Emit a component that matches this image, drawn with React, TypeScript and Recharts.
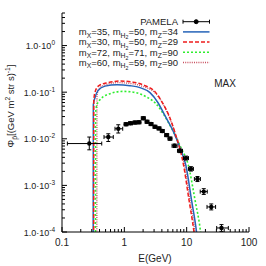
import React from 'react';
import { ComposedChart, Line, Scatter, XAxis, YAxis, ErrorBar } from 'recharts';

// PAMELA antiproton flux
const pamelaE = [0.274, 0.553, 0.8, 1.064, 1.256, 1.483, 1.719, 2.015, 2.31, 2.68, 3.1, 3.6, 4.06, 4.78, 5.4, 6.4, 7.81, 9.75, 11.7, 14.9, 18.8, 24.8, 36.2];
const pamelaELow = [0.122, 0.472, 0.708, 0.99, 1.17, 1.38, 1.6, 1.87, 2.15, 2.49, 2.88, 3.34, 3.77, 4.44, 5.01, 5.83, 7.12, 8.89, 10.67, 13.3, 16.5, 21.2, 30.3];
const pamelaEHigh = [0.434, 0.665, 0.942, 1.146, 1.35, 1.6, 1.85, 2.17, 2.49, 2.89, 3.34, 3.88, 4.37, 5.15, 5.82, 7.02, 8.57, 10.7, 12.83, 16.6, 21.4, 29.1, 46.6];
const pamelaFlux = [7.9e-3, 1.09e-2, 1.64e-2, 2.05e-2, 2.15e-2, 2.23e-2, 2.26e-2, 2.76e-2, 2.32e-2, 2.07e-2, 1.81e-2, 1.67e-2, 1.47e-2, 1.2e-2, 1.01e-2, 7.07e-3, 5.52e-3, 3.85e-3, 2.26e-3, 1.37e-3, 7.36e-4, 3.45e-4, 1.22e-4];
const pamelaFluxLow = [5.8e-3, 8.75e-3, 1.33e-2, 1.9e-2, 2.0e-2, 2.07e-2, 2.1e-2, 2.56e-2, 2.15e-2, 1.92e-2, 1.68e-2, 1.55e-2, 1.36e-2, 1.11e-2, 9.3e-3, 6.5e-3, 5.05e-3, 3.5e-3, 2.03e-3, 1.21e-3, 6.4e-4, 2.98e-4, 1.03e-4];
const pamelaFluxHigh = [1.09e-2, 1.28e-2, 2.0e-2, 2.21e-2, 2.32e-2, 2.4e-2, 2.43e-2, 2.97e-2, 2.5e-2, 2.23e-2, 1.95e-2, 1.8e-2, 1.58e-2, 1.3e-2, 1.09e-2, 7.7e-3, 6.0e-3, 4.25e-3, 2.52e-3, 1.55e-3, 8.5e-4, 4.0e-4, 1.44e-4];

// model curves
const blueE = [0.316, 0.318, 0.338, 0.378, 0.49, 0.763, 1.233, 1.783, 2.58, 3.47, 4.49, 6.03, 7.81, 9.76, 11.96, 14.4, 15.2];
const blueFlux = [2.5e-5, 0.0538, 0.0762, 0.108, 0.135, 0.145, 0.138, 0.125, 0.0976, 0.0594, 0.0313, 0.0149, 0.0064, 2.62e-3, 4.88e-4, 1e-4, 5.3e-5];

const redE = [0.322, 0.324, 0.345, 0.392, 0.547, 0.852, 1.377, 2.146, 3.1, 4.17, 5.21, 6.5, 8.9, 10.9, 13.1, 13.9];
const redFlux = [2.5e-5, 0.069, 0.108, 0.138, 0.16, 0.173, 0.164, 0.138, 0.1026, 0.0566, 0.0313, 0.01346, 2.76e-3, 4.88e-4, 1e-4, 5.3e-5];

const greenE = [0.343, 0.345, 0.364, 0.422, 0.589, 0.952, 1.54, 2.31, 3.22, 4.02, 5.02, 6.27, 8.11, 10.6, 13.6, 16.7, 17.6];
const greenFlux = [2.5e-5, 0.0362, 0.0538, 0.0724, 0.093, 0.104, 0.0976, 0.078, 0.0566, 0.0381, 0.0232, 0.01346, 0.0064, 2.76e-3, 4.88e-4, 1e-4, 5.3e-5];

const pinkE = [0.362, 0.364, 0.392, 0.508, 0.791, 1.327, 2.146, 3.1, 4.17, 5.21, 6.5, 9.23, 11.3, 13.6, 14.4];
const pinkFlux = [2.5e-5, 0.0841, 0.119, 0.145, 0.16, 0.152, 0.128, 0.0976, 0.0566, 0.0297, 0.01346, 2.76e-3, 4.88e-4, 1e-4, 5.3e-5];

const xMajorTicks = [0.1, 1, 10, 100];
const yMajorTicks = [1e-4, 1e-3, 1e-2, 1e-1, 1];
const minorSteps = [2, 3, 4, 5, 6, 7, 8, 9];

const X_DOMAIN = [0.1, 100];
const Y_DOMAIN = [1e-4, 5];

const xTicks: number[] = [];
xMajorTicks.forEach((m) => {
  xTicks.push(m);
  if (m < 100) minorSteps.forEach((s) => xTicks.push(m * s));
});
const yTicks: number[] = [];
yMajorTicks.forEach((m) => {
  yTicks.push(m);
  minorSteps.forEach((s) => {
    if (m * s <= 5.0001) yTicks.push(m * s);
  });
});

const toRows = (es: number[], fs: number[]) => es.map((e, i) => ({ e, phi: fs[i] }));
const pamelaRows = pamelaE.map((e, i) => ({
  e,
  phi: pamelaFlux[i],
  ex: [e - pamelaELow[i], pamelaEHigh[i] - e],
  ey: [pamelaFlux[i] - pamelaFluxLow[i], pamelaFluxHigh[i] - pamelaFlux[i]],
}));

const FONT = '"Liberation Sans", Arial, sans-serif';
const MAJOR = 5;
const MINOR = 3;

const isMajor = (v: number, majors: number[]) => majors.some((m) => Math.abs(v - m) / m < 1e-6);

const BottomTick = (props: any) => {
  const { x, y, payload } = props;
  const major = isMajor(payload.value, xMajorTicks);
  return (
    <g>
      <line x1={x} x2={x} y1={y} y2={y - (major ? MAJOR : MINOR)} stroke="#000" />
      {major && (
        <text x={x} y={y + 14} textAnchor="middle" fontSize={10} fontFamily={FONT} fill="#222">
          {String(payload.value)}
        </text>
      )}
    </g>
  );
};

const TopTick = (props: any) => {
  const { x, y, payload } = props;
  const major = isMajor(payload.value, xMajorTicks);
  return <line x1={x} x2={x} y1={y} y2={y + (major ? MAJOR : MINOR)} stroke="#000" />;
};

const LeftTick = (props: any) => {
  const { x, y, payload } = props;
  const major = isMajor(payload.value, yMajorTicks);
  const exp = Math.round(Math.log10(payload.value));
  return (
    <g>
      <line x1={x} x2={x + (major ? MAJOR : MINOR)} y1={y} y2={y} stroke="#000" />
      {major && (
        <text x={x - 7} y={y + 3.5} textAnchor="end" fontSize={9} fontFamily={FONT} fill="#222">
          1.0·10
          <tspan dy={-4} fontSize={6.5}>
            {String(exp)}
          </tspan>
        </text>
      )}
    </g>
  );
};

const RightTick = (props: any) => {
  const { x, y, payload } = props;
  const major = isMajor(payload.value, yMajorTicks);
  return <line x1={x} x2={x - (major ? MAJOR : MINOR)} y1={y} y2={y} stroke="#000" />;
};

// text with sub/superscripts: level 0 normal, -1 sub, -2 sub-sub, 1 sup
const levelShift: Record<number, number> = { 0: 0, '-1': 2.6, '-2': 4.2, 1: -4 };
const levelSize: Record<number, number> = { 0: 1, '-1': 0.72, '-2': 0.55, 1: 0.7 };
const RichText = ({ parts, size, ...rest }: any) => {
  let prev = 0;
  return (
    <text fontFamily={FONT} fontSize={size} fill="#222" {...rest}>
      {parts.map(([t, lvl]: [string, number], i: number) => {
        const dy = levelShift[lvl] - levelShift[prev];
        prev = lvl;
        return (
          <tspan key={i} dy={dy} fontSize={size * levelSize[lvl]}>
            {t}
          </tspan>
        );
      })}
    </text>
  );
};

const modelLabel = (mx: string, mh: string, mz: string) => [
  ['m', 0], ['X', -1], ['=' + mx + ', m', 0], ['H', -1], ['2', -2], ['=' + mh + ', m', 0], ['Z', -1], ['=' + mz, 0],
];

const legendRows = [
  { parts: [['PAMELA', 0]], color: '#000', dash: '', kind: 'data' },
  { parts: modelLabel('35', '50', '34'), color: '#2563b8', dash: '', kind: 'line' },
  { parts: modelLabel('30', '50', '29'), color: '#ee1c1c', dash: '4 2', kind: 'line' },
  { parts: modelLabel('72', '71', '90'), color: '#30ee30', dash: '2 2', kind: 'line' },
  { parts: modelLabel('60', '59', '90'), color: '#c85060', dash: '1 1.2', kind: 'line' },
];

const Dot = (props: any) => <circle cx={props.cx} cy={props.cy} r={2.2} fill="#000" />;

export default function App() {
  return (
    <div style={{ position: 'absolute', left: 0, top: 0, width: 266, height: 266, background: '#fff' }}>
      <ComposedChart width={266} height={266} margin={{ top: 13, right: 17, bottom: 14, left: 0 }}>
        <XAxis
          xAxisId="b"
          dataKey="e"
          type="number"
          scale="log"
          domain={X_DOMAIN}
          allowDataOverflow
          ticks={xTicks}
          interval={0}
          tickSize={0}
          tickMargin={0}
          height={20}
          axisLine={{ stroke: '#000' }}
          tick={BottomTick}
        />
        <XAxis
          xAxisId="t"
          orientation="top"
          type="number"
          scale="log"
          domain={X_DOMAIN}
          allowDataOverflow
          ticks={xTicks}
          interval={0}
          tickSize={0}
          tickMargin={0}
          height={0}
          axisLine={{ stroke: '#000' }}
          tick={TopTick}
        />
        <YAxis
          yAxisId="l"
          type="number"
          scale="log"
          domain={Y_DOMAIN}
          allowDataOverflow
          ticks={yTicks}
          interval={0}
          tickSize={0}
          tickMargin={0}
          width={62}
          axisLine={{ stroke: '#000' }}
          tick={LeftTick}
        />
        <YAxis
          yAxisId="r"
          orientation="right"
          type="number"
          scale="log"
          domain={Y_DOMAIN}
          allowDataOverflow
          ticks={yTicks}
          interval={0}
          tickSize={0}
          tickMargin={0}
          width={0}
          axisLine={{ stroke: '#000' }}
          tick={RightTick}
        />
        <Line xAxisId="b" yAxisId="l" data={toRows(pinkE, pinkFlux)} dataKey="phi" type="monotone" stroke="#c85060" strokeWidth={1.3} strokeDasharray="1 1.2" dot={false} isAnimationActive={false} />
        <Line xAxisId="b" yAxisId="l" data={toRows(greenE, greenFlux)} dataKey="phi" type="monotone" stroke="#30ee30" strokeWidth={1.6} strokeDasharray="2 2" dot={false} isAnimationActive={false} />
        <Line xAxisId="b" yAxisId="l" data={toRows(blueE, blueFlux)} dataKey="phi" type="monotone" stroke="#2563b8" strokeWidth={1.5} dot={false} isAnimationActive={false} />
        <Line xAxisId="b" yAxisId="l" data={toRows(redE, redFlux)} dataKey="phi" type="monotone" stroke="#ee1c1c" strokeWidth={1.5} strokeDasharray="4 2" dot={false} isAnimationActive={false} />
        <Scatter xAxisId="b" yAxisId="l" data={pamelaRows} dataKey="phi" fill="#000" shape={Dot} isAnimationActive={false}>
          <ErrorBar dataKey="ex" direction="x" width={2} stroke="#000" strokeWidth={1} />
          <ErrorBar dataKey="ey" direction="y" width={2} stroke="#000" strokeWidth={1} />
        </Scatter>
      </ComposedChart>
      <svg width={266} height={266} style={{ position: 'absolute', left: 0, top: 0, pointerEvents: 'none' }}>
        {legendRows.map((r, i) => {
          const ly = 21.7 + i * 10.2;
          return (
            <g key={i}>
              <RichText parts={r.parts} size={9.5} x={178} y={ly + 3.3} textAnchor="end" />
              {r.kind === 'data' ? (
                <g stroke="#000">
                  <line x1={183} x2={209.5} y1={ly} y2={ly} />
                  <line x1={183} x2={183} y1={ly - 2} y2={ly + 2} />
                  <line x1={209.5} x2={209.5} y1={ly - 2} y2={ly + 2} />
                  <circle cx={196.2} cy={ly} r={2} fill="#000" />
                </g>
              ) : (
                <line x1={183} x2={209.5} y1={ly} y2={ly} stroke={r.color} strokeWidth={1.5} strokeDasharray={r.dash} />
              )}
            </g>
          );
        })}
        <text x={225} y={87} textAnchor="middle" fontSize={10} fontFamily={FONT} fill="#222">
          MAX
        </text>
        <text x={155} y={262} textAnchor="middle" fontSize={10} fontFamily={FONT} fill="#222">
          E(GeV)
        </text>
        <g transform="rotate(-90, 14, 106)">
          <RichText
            parts={[['Φ', 0], ['p̄', -1], ['[(GeV m', 0], ['2', 1], [' str s)', 0], ['-1', 1], [']', 0]]}
            size={9.5}
            x={14}
            y={106}
            textAnchor="middle"
          />
        </g>
      </svg>
    </div>
  );
}
